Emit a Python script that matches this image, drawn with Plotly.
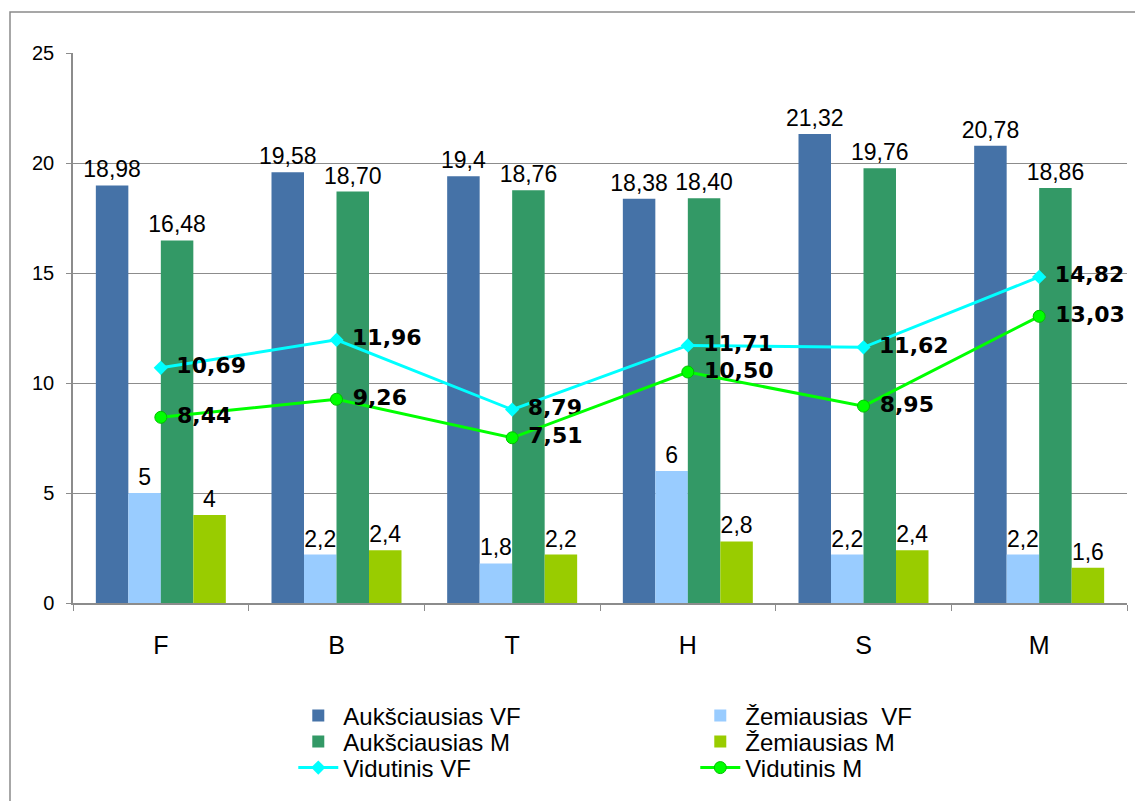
import plotly.graph_objects as go

categories = ["F", "B", "T", "H", "S", "M"]
auk_vf = [18.98, 19.58, 19.4, 18.38, 21.32, 20.78]
zem_vf = [5, 2.2, 1.8, 6, 2.2, 2.2]
auk_m = [16.48, 18.70, 18.76, 18.40, 19.76, 18.86]
zem_m = [4, 2.4, 2.2, 2.8, 2.4, 1.6]
vid_vf = [10.69, 11.96, 8.79, 11.71, 11.62, 14.82]
vid_m = [8.44, 9.26, 7.51, 10.50, 8.95, 13.03]

def gen(vals):
    return [("%g" % v).replace(".", ",") for v in vals]

def fix2(vals):
    return [("%.2f" % v).replace(".", ",") for v in vals]

LBL = dict(family="Liberation Sans, Arial", size=23, color="#000000")
BLD = dict(family="DejaVu Sans", size=22, color="#000000", weight="bold")

fig = go.Figure()

def add_bar(name, vals, color, labels, legend):
    fig.add_trace(go.Bar(
        x=categories, y=vals, name=name, marker=dict(color=color, line=dict(width=0)),
        text=labels, textposition="outside", textfont=LBL,
        constraintext="none", cliponaxis=False, legend=legend,
    ))

add_bar("Aukšciausias VF", auk_vf, "#4572A7", gen(auk_vf), "legend")
add_bar("Žemiausias  VF", zem_vf, "#99CCFF", gen(zem_vf), "legend")
add_bar("Aukšciausias M", auk_m, "#339966", fix2(auk_m), "legend2")
add_bar("Žemiausias M", zem_m, "#99CC00", gen(zem_m), "legend2")

fig.add_trace(go.Scatter(
    x=categories, y=vid_vf, name="Vidutinis VF", mode="lines+markers+text",
    line=dict(color="#00FFFF", width=3),
    marker=dict(symbol="diamond", size=11, color="#00FFFF"),
    text=fix2(vid_vf), texttemplate="\u00a0%{text}",
    textposition="middle right", textfont=BLD, cliponaxis=False, legend="legend3",
))
fig.add_trace(go.Scatter(
    x=categories, y=vid_m, name="Vidutinis M", mode="lines+markers+text",
    line=dict(color="#00FF00", width=3),
    marker=dict(symbol="circle", size=12, color="#00FF00", line=dict(color="#00C000", width=1)),
    text=fix2(vid_m), texttemplate="\u00a0%{text}",
    textposition="middle right", textfont=BLD, cliponaxis=False, legend="legend3",
))

LEGFONT = dict(family="Liberation Sans, Arial", size=24, color="#000000")
def leg(y):
    return dict(
        orientation="h", x=0.209, xanchor="left", y=y, yanchor="middle",
        entrywidth=347, font=LEGFONT, itemwidth=40, bgcolor="rgba(0,0,0,0)",
        tracegroupgap=0,
    )

fig.update_layout(
    width=1135, height=801,
    margin=dict(l=73, r=8, t=53, b=198, autoexpand=False),
    paper_bgcolor="white", plot_bgcolor="white",
    barmode="group", bargap=0.26, bargroupgap=0,
    font=dict(family="Liberation Sans, Arial", size=20, color="#000000"),
    showlegend=True,
    legend=leg((603 - 716) / 550),
    legend2=leg((603 - 742) / 550),
    legend3=leg((603 - 768) / 550),
    xaxis=dict(
        type="category", showline=True, linecolor="#8c8c8c", linewidth=1.5,
        ticks="outside", tickson="boundaries", ticklen=6, tickcolor="#8c8c8c",
        tickfont=dict(size=25), ticklabelstandoff=19, showgrid=False, automargin=False,
    ),
    yaxis=dict(
        range=[0, 25], dtick=5, showline=True, linecolor="#8c8c8c", linewidth=1.5,
        ticks="outside", ticklen=5, tickcolor="#8c8c8c", tickfont=dict(size=20),
        showgrid=True, gridcolor="#8c8c8c", gridwidth=1, zeroline=False,
        ticklabelstandoff=8, automargin=False,
    ),
    shapes=[dict(
        type="rect", xref="paper", yref="paper",
        x0=(10 - 73) / 1054, x1=1.05, y0=-0.5, y1=(603 - 12) / 550,
        line=dict(color="#8a8a8a", width=1.5), fillcolor="rgba(0,0,0,0)", layer="below",
    )],
)

fig.write_html("out.html", config={"displayModeBar": False},
               post_script="document.body.style.margin='0px';")
